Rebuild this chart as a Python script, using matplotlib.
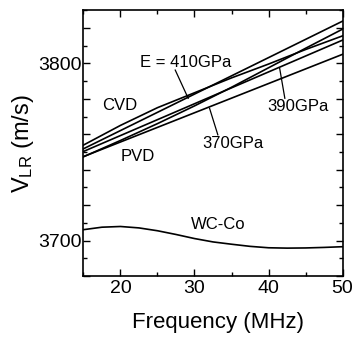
import numpy as np
import matplotlib
matplotlib.use("Agg")
import matplotlib.pyplot as plt
from matplotlib.ticker import MultipleLocator, FuncFormatter

plt.rcParams['font.family'] = ['Liberation Sans', 'DejaVu Sans']

# frequency grid (MHz)
freq = [15, 20, 25, 30, 35, 40, 45, 50]

# measured dispersion curves (m/s)
cvd = [3753.9, 3765.0, 3775.0, 3783.4, 3791.8, 3799.6, 3807.8, 3815.5]
pvd = [3747.3, 3756.5, 3766.0, 3776.0, 3786.5, 3797.5, 3808.5, 3819.3]

# calculated lines for different Young's moduli
e_freq = [15, 50]
e410 = [3751.8, 3823.8]
e390 = [3750.3, 3813.1]
e370 = [3747.4, 3805.1]

# substrate
wc_freq = [15, 17.5, 20, 22.5, 25, 27.5, 30, 32.5, 35, 37.5, 40, 42.5, 45, 47.5, 50]
wc_co = [3706.2, 3707.6, 3708.0, 3707.2, 3705.6, 3703.5, 3701.2, 3699.3,
         3698.0, 3696.8, 3696.0, 3695.8, 3695.9, 3696.2, 3696.6]

fig = plt.figure(figsize=(3.58, 3.38), dpi=100)
ax = fig.add_axes([0.233, 0.183, 0.724, 0.787])

lw = 1.2
for ys in (cvd, pvd):
    ax.plot(freq, ys, color='black', lw=lw)
for ys in (e410, e390, e370):
    ax.plot(e_freq, ys, color='black', lw=lw)
ax.plot(wc_freq, wc_co, color='black', lw=lw)

ax.set_xlim(15, 50)
ax.set_ylim(3680, 3830)

ax.xaxis.set_major_locator(MultipleLocator(10))
ax.xaxis.set_minor_locator(MultipleLocator(5))
ax.yaxis.set_major_locator(MultipleLocator(20))
ax.yaxis.set_minor_locator(MultipleLocator(10))
ax.yaxis.set_major_formatter(FuncFormatter(lambda v, p: f"{v:.0f}" if v % 100 == 0 else ""))

ax.tick_params(which='both', direction='in', top=True, right=True, width=1.0)
ax.tick_params(which='major', length=5, labelsize=14)
ax.tick_params(which='minor', length=3)
ax.tick_params(axis='y', pad=1)
ax.tick_params(axis='x', pad=3)
for s in ax.spines.values():
    s.set_linewidth(1.2)

ax.set_xlabel('Frequency (MHz)', fontsize=16)
ax.xaxis.set_label_coords(0.52, -0.135)
ax.set_ylabel(r'$\mathregular{V_{LR}}$ (m/s)', fontsize=17, labelpad=2)

fs = 12
ax.text(28.8, 3800.7, 'E = 410GPa', fontsize=fs, ha='center', va='center')
ax.text(19.9, 3776.5, 'CVD', fontsize=fs, ha='center', va='center')
ax.text(22.3, 3747.4, 'PVD', fontsize=fs, ha='center', va='center')
ax.text(35.2, 3755.0, '370GPa', fontsize=fs, ha='center', va='center')
ax.text(44.0, 3775.6, '390GPa', fontsize=fs, ha='center', va='center')
ax.text(33.25, 3709.0, 'WC-Co', fontsize=fs, ha='center', va='center')

# pointer lines from labels
ax.plot([27.4, 29.15], [3796.2, 3780.3], color='black', lw=0.9)
ax.plot([33.15, 32.03], [3759.7, 3774.7], color='black', lw=0.9)
ax.plot([42.2, 41.5], [3780.3, 3797.2], color='black', lw=0.9)

fig.savefig('out.png', dpi=100)
